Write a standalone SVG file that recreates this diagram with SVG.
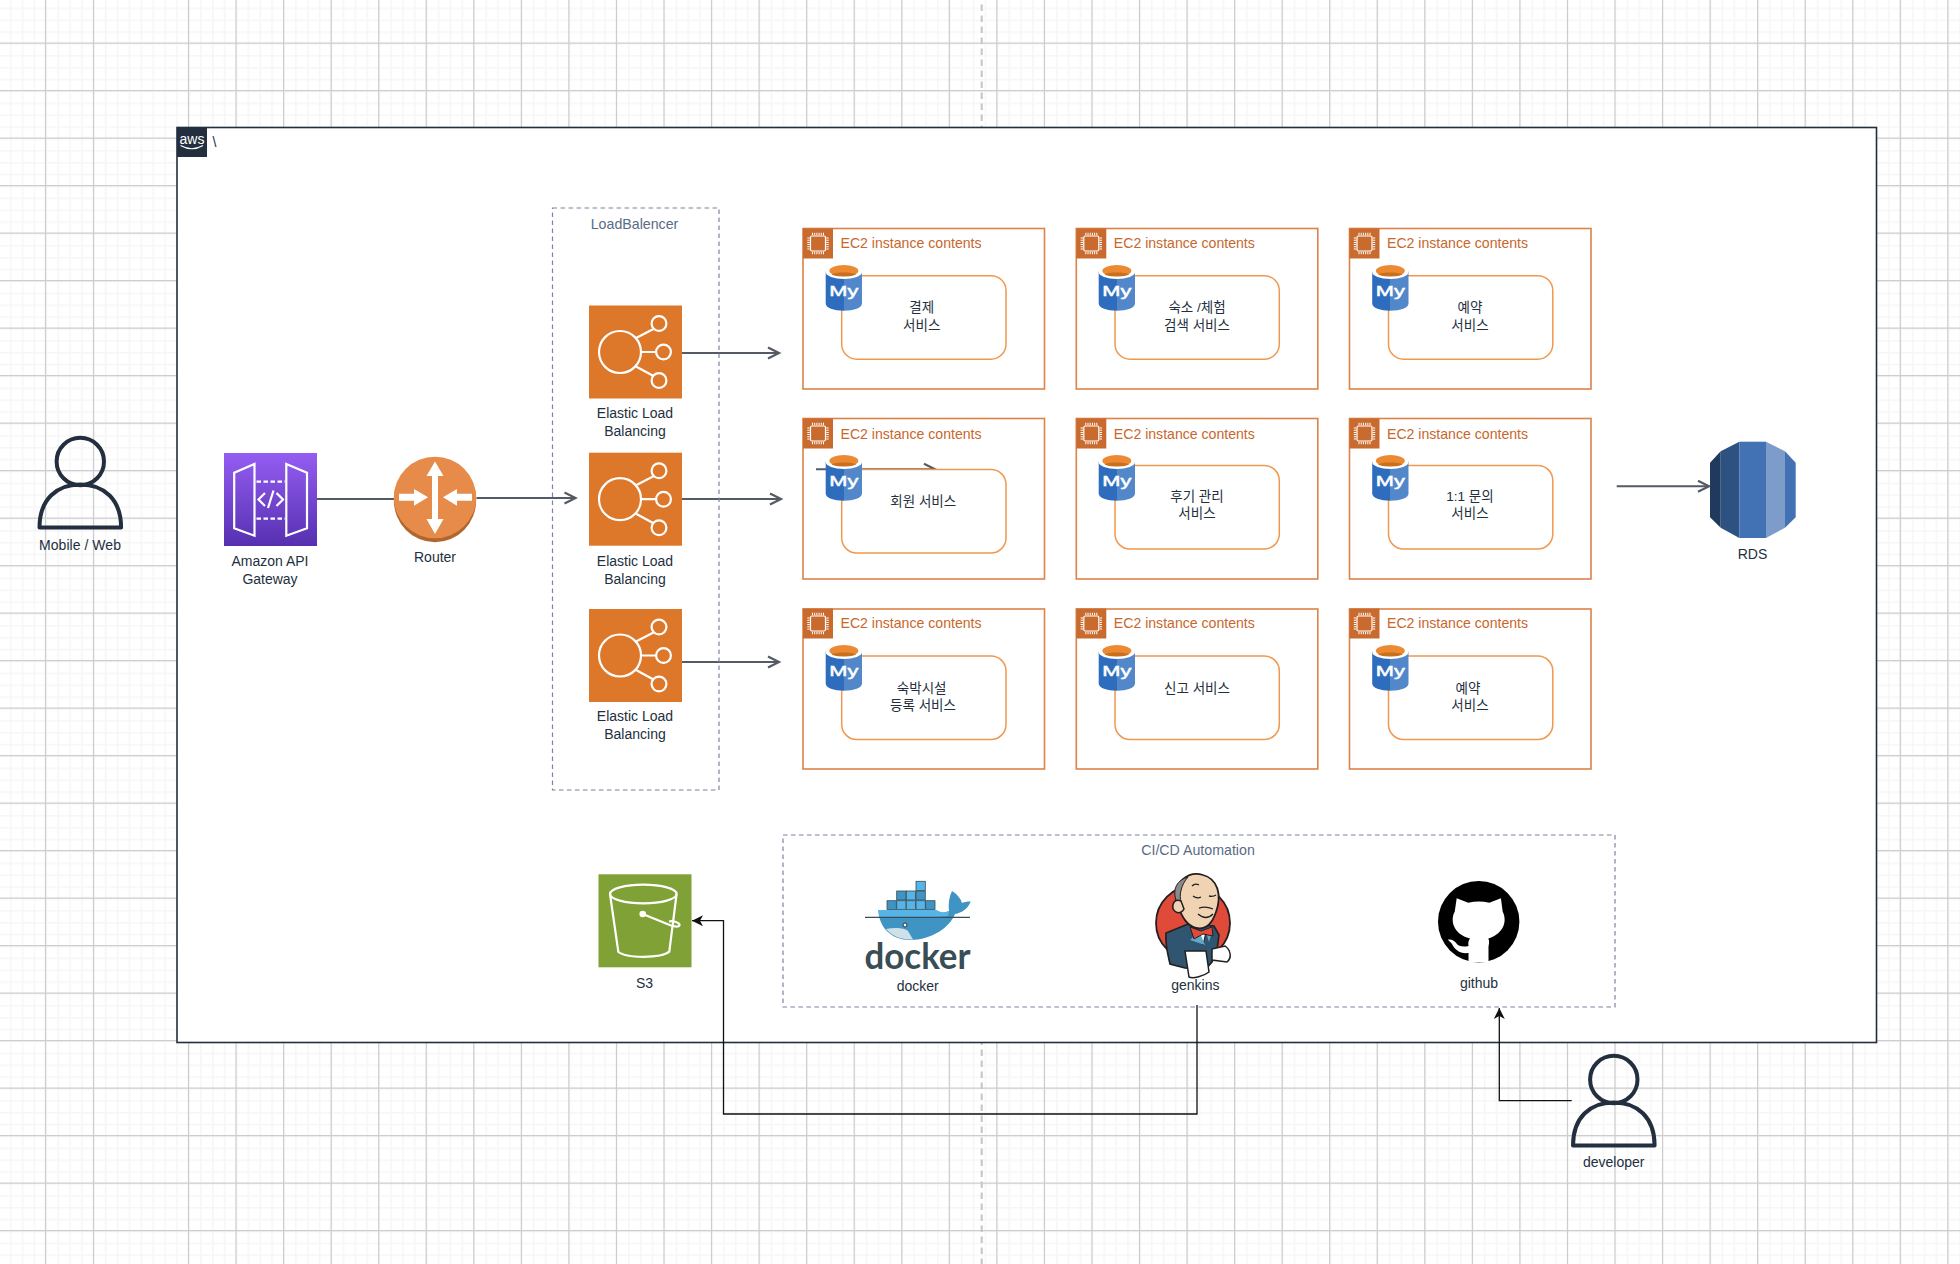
<svg xmlns="http://www.w3.org/2000/svg" width="1960" height="1264" viewBox="0 0 1960 1264">
<style>
text{font-family:"Liberation Sans","Noto Sans CJK KR",sans-serif;font-size:14px;fill:#232f3e}
.c{text-anchor:middle}
.k{font-size:13.5px;text-anchor:middle}
.ec{fill:#c7672c;font-size:14.1px}
.my{font-size:15.5px;fill:#fff;stroke:#fff;stroke-width:.5}
.gl{font-size:14.2px;fill:#5a6b86;text-anchor:middle}
.ec2{fill:none;stroke:#dd8248;stroke-width:1.6}
.svc{fill:#fff;stroke:#f0984f;stroke-width:1.5}
.hd{fill:#c96b2f}
.dash{fill:none;stroke:#7d83a0;stroke-width:1.2;stroke-dasharray:4.500 3.500}
.g{fill:none;stroke:#545b64;stroke-width:2}
.b{fill:none;stroke:#111;stroke-width:1.3}
.w{fill:none;stroke:#fff;stroke-width:2.2}
.p{fill:none;stroke:#232f3e;stroke-width:4}
</style>
<defs>
<pattern id="minor" width="11.8875" height="11.875" patternUnits="userSpaceOnUse" patternTransform="translate(45.5 43.2)">
<path d="M0 0V11.875M0 0H11.8875" stroke="#f6f6f7" stroke-width="3" fill="none"/>
</pattern>
<linearGradient id="api" x1="0" y1="0" x2="0" y2="1"><stop offset="0" stop-color="#945df2"/><stop offset="1" stop-color="#5630b0"/></linearGradient>
<linearGradient id="cylL" x1="0" y1="0" x2="1" y2="0"><stop offset="0" stop-color="#2e6dbd"/><stop offset=".5" stop-color="#2e6dbd"/><stop offset=".5" stop-color="#5288c9"/><stop offset="1" stop-color="#5288c9"/></linearGradient>
<marker id="open" markerUnits="userSpaceOnUse" markerWidth="16" markerHeight="16" refX="13" refY="8" orient="auto"><path d="M2 2.500L13 8L2 13.500" fill="none" stroke="#545b64" stroke-width="2.200"/></marker>
<marker id="tri" markerUnits="userSpaceOnUse" markerWidth="12" markerHeight="12" refX="11" refY="6" orient="auto"><path d="M11 6L0 .5L3 6L0 11.500Z" fill="#111"/></marker>
<g id="elb">
<rect width="93" height="93" fill="#dd782b"/>
<g class="w" stroke-width="2.400">
<circle cx="31" cy="46.500" r="21"/><circle cx="70" cy="18" r="7.400"/><circle cx="74.500" cy="46.500" r="7.400"/><circle cx="70" cy="75" r="7.400"/>
<path d="M47 32.500L64.500 23.500M52 46.500H67M47 61L64.500 70.500"/>
</g>
</g>
<g id="chip">
<rect width="30" height="30" class="hd"/>
<rect x="7.500" y="7.500" width="15" height="15" rx="1.500" fill="none" stroke="#fff" stroke-width="1.200"/>
<path d="M5.500 9V21M24.500 9V21" stroke="#fff" stroke-width="2.400" stroke-dasharray="1 1.200" fill="none"/>
<path d="M9 5.500H21M9 24.500H21" stroke="#fff" stroke-width="2.400" stroke-dasharray="1 1.200" fill="none"/>
</g>
<g id="cyl">
<path d="M0 6.500V38.500C0 43 8 45.700 18.150 45.700S36.300 43 36.300 38.500V6.500Z" fill="url(#cylL)"/>
<ellipse cx="18.150" cy="7" rx="18.150" ry="7" fill="#fff"/>
<ellipse cx="18.150" cy="5.700" rx="14.500" ry="5.700" fill="#ec8a33"/>
<path d="M6 9.400C9 7 27 7 30.300 9.400C26 12 10 12 6 9.400Z" fill="#c9701f"/>
</g>
<g id="person" class="p">
<circle cx="40.800" cy="24" r="23.700"/>
<path d="M0 90C0 62 17 47 40.800 47S81.600 62 81.600 90Z" stroke-linejoin="round"/>
</g>
</defs>

<g id="background">
<rect width="1960" height="1264" fill="#fff"/>
<rect width="1960" height="1264" fill="url(#minor)"/>
<path fill="none" stroke="#cdcdd0" stroke-width="1.200" d="M45.500 0V1264M93.500 0V1264M188.500 0V1264M236.050 0V1264M283.600 0V1264M331.150 0V1264M378.700 0V1264M426.250 0V1264M473.800 0V1264M521.350 0V1264M568.900 0V1264M616.450 0V1264M664 0V1264M711.550 0V1264M759.100 0V1264M806.650 0V1264M854.200 0V1264M901.750 0V1264M949.300 0V1264M996.850 0V1264M1044.400 0V1264M1091.950 0V1264M1139.500 0V1264M1187.050 0V1264M1234.600 0V1264M1282.150 0V1264M1329.700 0V1264M1377.250 0V1264M1424.800 0V1264M1472.350 0V1264M1519.900 0V1264M1567.450 0V1264M1615 0V1264M1662.550 0V1264M1710.100 0V1264M1757.650 0V1264M1805.200 0V1264M1852.750 0V1264M1900.300 0V1264M1947.850 0V1264"/>
<path fill="none" stroke="#cdcdd0" stroke-width="1.200" d="M0 43.200H1960M0 90.700H1960M0 138.200H1960M0 185.700H1960M0 233.200H1960M0 280.700H1960M0 328.200H1960M0 375.700H1960M0 423.200H1960M0 470.700H1960M0 518.200H1960M0 565.700H1960M0 613.200H1960M0 660.700H1960M0 708.200H1960M0 755.700H1960M0 803.200H1960M0 850.700H1960M0 898.200H1960M0 945.700H1960M0 993.200H1960M0 1040.700H1960M0 1088.200H1960M0 1135.700H1960M0 1183.200H1960M0 1230.700H1960"/>
<path d="M981.700 4.500V1264" fill="none" stroke="#c4c4c8" stroke-width="2" stroke-dasharray="6.500 4.500"/>
</g>

<g id="aws-cloud">
<rect x="177" y="127.500" width="1699.500" height="915" fill="#fff" stroke="#232f3e" stroke-width="1.600"/>
<rect x="177" y="127" width="30" height="30" fill="#232f3e"/>
<text x="192" y="144" class="c" style="fill:#fff;font-size:14px">aws</text>
<path d="M180.500 145.500Q192 152 203 145.500" fill="none" stroke="#fff" stroke-width="1.200"/>
<text x="212.500" y="146.800">\</text>
</g>

<g id="connectors">
<path class="g" d="M317 499H394"/>
<path class="g" d="M476.500 498H575.500" marker-end="url(#open)"/>
<path class="g" d="M680 353H779" marker-end="url(#open)"/>
<path class="g" d="M682 499H781" marker-end="url(#open)"/>
<path class="g" d="M682 662H779" marker-end="url(#open)"/>
<path class="g" d="M816 469.300H935" marker-end="url(#open)"/>
<path class="g" d="M1616.700 486.300H1709" marker-end="url(#open)"/>
<path class="b" d="M1197 1005V1114H723.500V920.700H692" marker-end="url(#tri)"/>
<path class="b" d="M1571.700 1100.700H1499.300V1008" marker-end="url(#tri)"/>
</g>

<g id="mobile-web">
<use href="#person" x="39.500" y="437.500"/>
<text x="80" y="550" class="c" textLength="82">Mobile / Web</text>
</g>

<g id="api-gateway">
<rect x="224" y="453" width="93" height="93" fill="url(#api)"/>
<path class="w" d="M234.200 472.700L254.500 464V535.700L234.200 528.300ZM286.300 464L307 472.700V528.300L286.300 535.700Z"/>
<path class="w" stroke-dasharray="4.500 2.500" d="M256.500 481.700H285M256.500 518.700H285"/>
<path class="w" d="M265 493L258.500 499.500L265 506M276.500 493L283 499.500L276.500 506M273.500 490.500L268 508"/>
<text x="270" y="566" class="c">Amazon API</text>
<text x="270" y="584" class="c">Gateway</text>
</g>

<g id="router">
<ellipse cx="435" cy="500" rx="41.200" ry="42.300" fill="#b0662c"/>
<ellipse cx="435" cy="497.500" rx="41.200" ry="40.800" fill="#e78b4a"/>
<path fill="#fff" d="M435 461.500L443.500 476H438V519H443.500L435 534L426.500 519H432V476H426.500ZM399 493.800H414V489L428 497.300L414 505.700V500.800H399ZM472 493.800H457V489L443 497.300L457 505.700V500.800H472Z"/>
<text x="435" y="562" class="c">Router</text>
</g>

<g id="load-balancer">
<rect x="552.500" y="208" width="166.500" height="582" class="dash"/>
<text x="634.500" y="229" class="gl">LoadBalencer</text>
</g>
<g id="elb-1">
<use href="#elb" x="589" y="305.500"/>
<text x="635" y="418" class="c">Elastic Load</text><text x="635" y="436" class="c">Balancing</text>
</g>
<g id="elb-2">
<use href="#elb" x="589" y="452.700"/>
<text x="635" y="565.500" class="c">Elastic Load</text><text x="635" y="583.500" class="c">Balancing</text>
</g>
<g id="elb-3">
<use href="#elb" x="589" y="609"/>
<text x="635" y="720.500" class="c">Elastic Load</text><text x="635" y="738.500" class="c">Balancing</text>
</g>

<g id="ec2-1-1">
<rect x="803" y="228.500" width="241.500" height="160.500" class="ec2"/><use href="#chip" x="803" y="228.500"/>
<text x="840.500" y="248" class="ec">EC2 instance contents</text>
<rect x="841.700" y="275.700" width="164.300" height="83.500" rx="15" class="svc"/>
<use href="#cyl" x="825.700" y="265"/><text x="829.300" y="296" class="my" textLength="29" lengthAdjust="spacingAndGlyphs">My</text>
<text x="921.700" y="312" class="k">결제</text><text x="921.700" y="329.500" class="k">서비스</text>
</g>
<g id="ec2-1-2">
<rect x="1076.300" y="228.500" width="241.500" height="160.500" class="ec2"/><use href="#chip" x="1076.300" y="228.500"/>
<text x="1113.800" y="248" class="ec">EC2 instance contents</text>
<rect x="1115" y="275.700" width="164.300" height="83.500" rx="15" class="svc"/>
<use href="#cyl" x="1098.700" y="265"/><text x="1102.300" y="296" class="my" textLength="29" lengthAdjust="spacingAndGlyphs">My</text>
<text x="1197" y="312" class="k">숙소 /체험</text><text x="1197" y="329.500" class="k">검색 서비스</text>
</g>
<g id="ec2-1-3">
<rect x="1349.500" y="228.500" width="241.500" height="160.500" class="ec2"/><use href="#chip" x="1349.500" y="228.500"/>
<text x="1387" y="248" class="ec">EC2 instance contents</text>
<rect x="1388.500" y="275.700" width="164.300" height="83.500" rx="15" class="svc"/>
<use href="#cyl" x="1372.200" y="265"/><text x="1375.800" y="296" class="my" textLength="29" lengthAdjust="spacingAndGlyphs">My</text>
<text x="1470" y="312" class="k">예약</text><text x="1470" y="329.500" class="k">서비스</text>
</g>

<g id="ec2-2-1">
<rect x="803" y="418.500" width="241.500" height="160.500" class="ec2"/><use href="#chip" x="803" y="418.500"/>
<text x="840.500" y="439" class="ec">EC2 instance contents</text>
<rect x="841.700" y="469.500" width="164.300" height="83.500" rx="15" class="svc"/>
<use href="#cyl" x="825.700" y="455"/><text x="829.300" y="486" class="my" textLength="29" lengthAdjust="spacingAndGlyphs">My</text>
<text x="923.300" y="506" class="k">회원 서비스</text>
</g>
<g id="ec2-2-2">
<rect x="1076.300" y="418.500" width="241.500" height="160.500" class="ec2"/><use href="#chip" x="1076.300" y="418.500"/>
<text x="1113.800" y="439" class="ec">EC2 instance contents</text>
<rect x="1115" y="465.500" width="164.300" height="83.500" rx="15" class="svc"/>
<use href="#cyl" x="1098.700" y="455"/><text x="1102.300" y="486" class="my" textLength="29" lengthAdjust="spacingAndGlyphs">My</text>
<text x="1197" y="501" class="k">후기 관리</text><text x="1197" y="518" class="k">서비스</text>
</g>
<g id="ec2-2-3">
<rect x="1349.500" y="418.500" width="241.500" height="160.500" class="ec2"/><use href="#chip" x="1349.500" y="418.500"/>
<text x="1387" y="439" class="ec">EC2 instance contents</text>
<rect x="1388.500" y="465.500" width="164.300" height="83.500" rx="15" class="svc"/>
<use href="#cyl" x="1372.200" y="455"/><text x="1375.800" y="486" class="my" textLength="29" lengthAdjust="spacingAndGlyphs">My</text>
<text x="1470" y="501" class="k">1:1 문의</text><text x="1470" y="518" class="k">서비스</text>
</g>

<g id="ec2-3-1">
<rect x="803" y="609" width="241.500" height="160" class="ec2"/><use href="#chip" x="803" y="608.500"/>
<text x="840.500" y="627.500" class="ec">EC2 instance contents</text>
<rect x="841.700" y="656" width="164.300" height="83.500" rx="15" class="svc"/>
<use href="#cyl" x="825.700" y="645"/><text x="829.300" y="676" class="my" textLength="29" lengthAdjust="spacingAndGlyphs">My</text>
<text x="921.700" y="693" class="k">숙박시설</text><text x="923" y="709.500" class="k">등록 서비스</text>
</g>
<g id="ec2-3-2">
<rect x="1076.300" y="609" width="241.500" height="160" class="ec2"/><use href="#chip" x="1076.300" y="608.500"/>
<text x="1113.800" y="627.500" class="ec">EC2 instance contents</text>
<rect x="1115" y="656" width="164.300" height="83.500" rx="15" class="svc"/>
<use href="#cyl" x="1098.700" y="645"/><text x="1102.300" y="676" class="my" textLength="29" lengthAdjust="spacingAndGlyphs">My</text>
<text x="1197" y="693" class="k">신고 서비스</text>
</g>
<g id="ec2-3-3">
<rect x="1349.500" y="609" width="241.500" height="160" class="ec2"/><use href="#chip" x="1349.500" y="608.500"/>
<text x="1387" y="627.500" class="ec">EC2 instance contents</text>
<rect x="1388.500" y="656" width="164.300" height="83.500" rx="15" class="svc"/>
<use href="#cyl" x="1372.200" y="645"/><text x="1375.800" y="676" class="my" textLength="29" lengthAdjust="spacingAndGlyphs">My</text>
<text x="1468" y="693" class="k">예약</text><text x="1470" y="709.500" class="k">서비스</text>
</g>

<g id="rds">
<path fill="#203a5e" d="M1710 462.700L1720.700 451.300V527.700L1710 517.300Z"/>
<path fill="#2d5180" d="M1720.700 451.300L1739.300 441.700V538L1720.700 527.700Z"/>
<rect x="1739.300" y="441.700" width="26.700" height="96.300" fill="#4272b4"/>
<path fill="#7d9cc9" d="M1766 441.700L1785 451.300V527.700L1766 538Z"/>
<path fill="#4272b4" d="M1785 451.300L1795.700 462.700V517.300L1785 527.700Z"/>
<text x="1752.500" y="559" class="c">RDS</text>
</g>

<g id="s3">
<rect x="598.500" y="874.300" width="93" height="93" fill="#7fa135"/>
<ellipse cx="643.300" cy="894" rx="33.300" ry="9.300" class="w"/>
<path class="w" d="M610 894L618.300 951.700C626 958.500 661 958.500 669.300 951.700L676.600 894"/>
<circle cx="642.700" cy="914" r="3.300" fill="#fff"/>
<path class="w" d="M642.700 914L671 925.500C677 927.500 680 926.500 679.500 924.500C678.500 922 672.500 920.500 669 921.500"/>
<text x="644.500" y="988" class="c">S3</text>
</g>

<g id="cicd">
<rect x="783" y="835" width="832" height="172" class="dash"/>
<text x="1198" y="855" class="gl">CI/CD Automation</text>
</g>

<g id="docker">
<path fill="#3f94c4" d="M878.300 910H936C940 913 945 913 949 911C948 905 949 897 952 891C957 894 961 899 962 903C967 901 973 901 970 903C968 908 962 913 955 914C950 927 932 940 910 940C892 940 879 928 878.300 910Z"/>
<path fill="#55b4e8" d="M878.300 910H936C940 913 945 913 949 911L948 916C925 919 900 917 879.500 917.500Z"/>
<path fill="#cfe1e8" d="M886 929C895 927 905 928 908 931L913 939.500C901 940 892 936 886 929Z"/>
<path d="M865 917.300H970" stroke="#394d54" stroke-width="1.200" fill="none"/>
<circle cx="905" cy="925" r="2" fill="#fff" stroke="#24313a" stroke-width="1"/>
<g fill="#55b4e8" stroke="#394d54" stroke-width=".8">
<rect x="887" y="900.700" width="9.300" height="8.800" fill="#3f94c4"/><rect x="896.700" y="900.700" width="9.300" height="8.800"/><rect x="906.300" y="900.700" width="9.300" height="8.800"/><rect x="916" y="900.700" width="9.300" height="8.800"/><rect x="925.700" y="900.700" width="9.300" height="8.800" fill="#3f94c4"/>
<rect x="896.700" y="891" width="9.300" height="9" fill="#3f94c4"/><rect x="906.300" y="891" width="9.300" height="9"/><rect x="916" y="891" width="9.300" height="9" fill="#3f94c4"/>
<rect x="916" y="881.300" width="9.300" height="9.200"/>
</g>
<text x="864.500" y="968.500" textLength="106" lengthAdjust="spacingAndGlyphs" style="font-family:'Lato',sans-serif;font-weight:bold;font-size:36px;fill:#394d54">docker</text>
<text x="917.700" y="991" class="c">docker</text>
</g>

<g id="genkins">
<circle cx="1193" cy="923" r="37" fill="#e04a39" stroke="#231f20" stroke-width="1.800"/>
<path fill="#2f5570" stroke="#231f20" stroke-width="1.600" d="M1166 933L1188 924L1214 926L1219 935L1217 950L1212 962L1205 970L1185 968L1170 964C1168 955 1165 945 1166 933Z"/>
<path fill="#fff" stroke="#231f20" stroke-width="1" d="M1199 932L1206 932L1203 945Z"/>
<path fill="#5fa8c9" d="M1190 940L1199 931L1205 945ZM1206 932L1213 929L1209 942Z"/>
<path fill="#f0d3b2" stroke="#231f20" stroke-width="1.800" d="M1177 904C1172 880 1190 871 1203 875C1218 879 1222 895 1216 912C1212 924 1205 930 1196 928C1187 926 1182 917 1177 904Z"/>
<path fill="#8a8a8c" stroke="#231f20" stroke-width="1" d="M1177 903C1171 888 1178 880 1188 877C1181 885 1179 895 1181 902Z"/>
<path fill="#f0d3b2" stroke="#231f20" stroke-width="1.500" d="M1181 901C1173 898 1170 908 1176 912C1180 914 1183 911 1184 909Z"/>
<path fill="none" stroke="#231f20" stroke-width="1.300" d="M1193 896Q1197 899 1201 897M1209 896Q1213 897 1216 895M1192 886Q1195 883 1199 885M1198 914Q1206 921 1213 914M1199 908Q1206 906 1213 909"/>
<path fill="#e04a39" stroke="#231f20" stroke-width="1" d="M1190 927L1201 931L1212 927L1213 936L1203 934L1194 939Z"/>
<path fill="#fff" stroke="#231f20" stroke-width="1.500" d="M1185 951H1206L1209 972C1204 976 1193 979 1189 977Z"/>
<path fill="#fff" stroke="#231f20" stroke-width="1.500" d="M1212 949L1225 946C1231 950 1232 958 1227 962L1212 960Z"/>
<text x="1195.300" y="990" class="c">genkins</text>
</g>

<g id="github">
<circle cx="1478.700" cy="921.700" r="40.700" fill="#000"/>
<path fill="#fff" d="M1456.700 898.300L1468.300 902.700Q1479 900.500 1489.300 902.700L1500.900 898.300L1502.700 911.700C1507 920 1505 933 1488.300 938.500C1490 942 1488.500 945 1488.500 948V962L1468.500 962.500V953C1460 954 1455 950 1452 944C1450.500 941.500 1448.500 941 1448 939.500C1452 939 1455 941 1456.500 943.500C1458 946 1463 947.500 1468.500 946C1468 943 1468.300 941 1470 938.500C1453 934 1450 920 1454.700 911.700Z"/>
<text x="1479" y="988" class="c">github</text>
</g>

<g id="developer">
<use href="#person" x="1573" y="1055.500"/>
<text x="1613.700" y="1167" class="c">developer</text>
</g>
</svg>
